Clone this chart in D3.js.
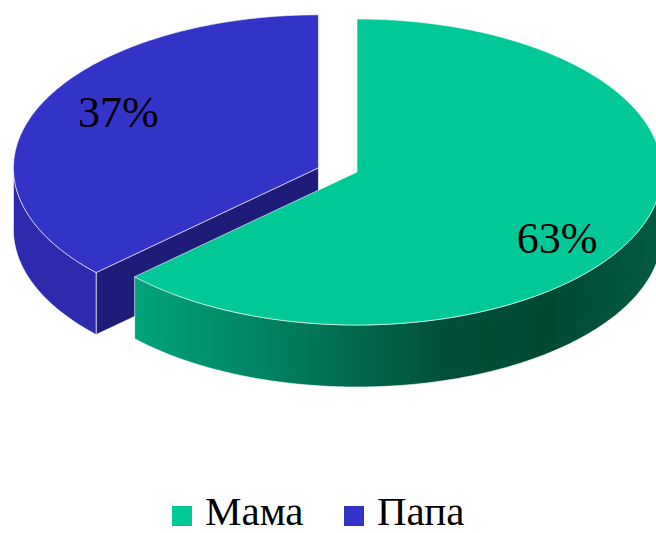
<!DOCTYPE html>
<html>
<head>
<meta charset="utf-8">
<script src="https://cdn.jsdelivr.net/npm/d3@7"></script>
<style>
  body { margin: 0; background: #fff; }
  svg { display: block; }
</style>
</head>
<body>
<div id="chart"></div>
<script>
const labels = ["Мама", "Папа"];
const values = [63, 37];
const topColors = ["#00c896", "#3333c8"];

const width = 656, height = 533;
const cx = 357, cy = 172, rx = 305, ry = 153, depth = 62;
const serif = "'Liberation Serif', 'DejaVu Serif', Times, serif";

const svg = d3.select("#chart").append("svg")
  .attr("width", width).attr("height", height)
  .style("font-family", serif);

const defs = svg.append("defs");
const gGreen = defs.append("linearGradient").attr("id", "greenSide")
  .attr("gradientUnits", "userSpaceOnUse")
  .attr("x1", 130).attr("x2", 656).attr("y1", 0).attr("y2", 0);
[["0%", "#00a57c"], ["30%", "#007d5e"], ["60%", "#004f38"], ["80%", "#004a34"], ["100%", "#005a41"]]
  .forEach(s => gGreen.append("stop").attr("offset", s[0]).attr("stop-color", s[1]));

const pie = d3.pie().sort(null).value(d => d)(values);

// point on ellipse, angle clockwise from 12 o'clock
const pt = (a, ox, oy, dz) => [ox + rx * Math.sin(a), oy - ry * Math.cos(a) + (dz || 0)];
const arcPts = (a0, a1, ox, oy, dz) => {
  const n = Math.max(2, Math.ceil((a1 - a0) / 0.01));
  return d3.range(n + 1).map(i => pt(a0 + (a1 - a0) * i / n, ox, oy, dz));
};
const line = d3.line().curve(d3.curveLinear);

// the Папа slice is pulled out a bit
const slices = pie.map((p, i) => {
  const mid = (p.startAngle + p.endAngle) / 2;
  const explode = i === 1 ? 42 : 0;
  return {
    p, i, mid,
    ox: cx + Math.sin(mid) * explode,
    oy: cy - Math.cos(mid) * explode * 0.25
  };
});

const edge = "rgba(255,255,255,0.75)";
const draw = svg.append("g");

function sideFace(s, fill) {
  const a0 = Math.max(s.p.startAngle, Math.PI / 2);
  const a1 = Math.min(s.p.endAngle, 3 * Math.PI / 2);
  if (a1 <= a0) return;
  const top = arcPts(a0, a1, s.ox, s.oy, 0);
  const bot = arcPts(a0, a1, s.ox, s.oy, depth).reverse();
  draw.append("path").attr("d", line(top.concat(bot)) + "Z")
    .attr("fill", fill).attr("stroke", edge).attr("stroke-width", 0.8);
}

function radialFace(s, a, fill) {
  const c = [s.ox, s.oy];
  const e = pt(a, s.ox, s.oy);
  const poly = [c, e, [e[0], e[1] + depth], [c[0], c[1] + depth]];
  draw.append("path").attr("d", line(poly) + "Z")
    .attr("fill", fill).attr("stroke", edge).attr("stroke-width", 0.8);
}

function topFace(s) {
  const pts = [[s.ox, s.oy]].concat(arcPts(s.p.startAngle, s.p.endAngle, s.ox, s.oy, 0));
  draw.append("path").attr("d", line(pts) + "Z")
    .attr("fill", topColors[s.i]).attr("stroke", edge).attr("stroke-width", 0.8);
}

const green = slices[0], blue = slices[1];
// back to front
radialFace(blue, blue.p.startAngle, "#1f1b78");
sideFace(blue, "#2d2aae");
topFace(blue);
sideFace(green, "url(#greenSide)");
topFace(green);

// percentage labels
const total = d3.sum(values);
slices.forEach(s => {
  svg.append("text")
    .attr("x", s.ox + Math.sin(s.mid) * rx * 0.715)
    .attr("y", s.oy - Math.cos(s.mid) * ry * 1.0 + 5)
    .attr("dy", "0.35em")
    .attr("text-anchor", "middle")
    .attr("font-family", serif)
    .attr("font-size", 44)
    .attr("fill", "#000")
    .text(Math.round(values[s.i] / total * 100) + "%");
});

// legend
const legendX = d3.scalePoint().domain(labels).range([172, 344]);
const lg = svg.append("g").selectAll("g").data(labels).join("g")
  .attr("transform", d => `translate(${legendX(d)},506)`);
lg.append("rect").attr("width", 20).attr("height", 20)
  .attr("fill", (d, i) => topColors[i]);
lg.append("text").attr("x", 33).attr("y", 19)
  .attr("font-family", serif)
  .attr("font-size", 41).attr("fill", "#000").text(d => d);
</script>
</body>
</html>
